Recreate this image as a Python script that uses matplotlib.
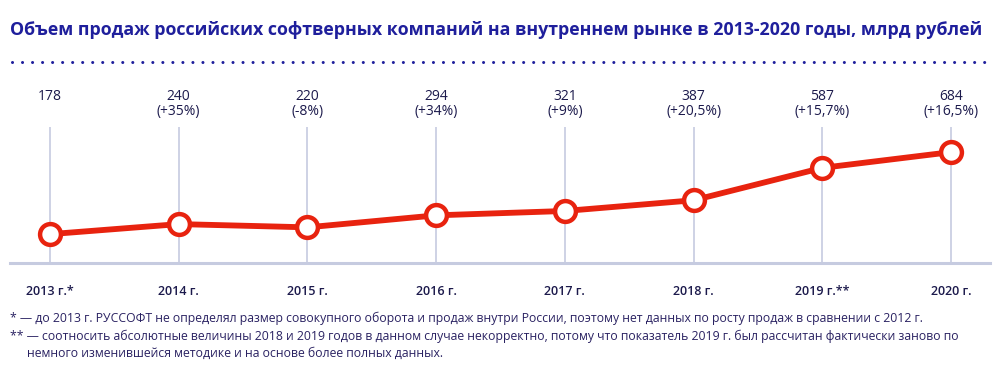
import matplotlib
matplotlib.use("Agg")
import matplotlib.pyplot as plt
import matplotlib.transforms as mtransforms
from matplotlib.lines import Line2D

plt.rcParams['font.family'] = ['Open Sans', 'DejaVu Sans']

# data
years = ["2013 г.*", "2014 г.", "2015 г.", "2016 г.", "2017 г.", "2018 г.", "2019 г.**", "2020 г."]
sales = [178, 240, 220, 294, 321, 387, 587, 684]
growth = ["", "(+35%)", "(-8%)", "(+34%)", "(+9%)", "(+20,5%)", "(+15,7%)", "(+16,5%)"]

title = "Объем продаж российских софтверных компаний на внутреннем рынке в 2013-2020 годы, млрд рублей"
notes = [
    "* — до 2013 г. РУССОФТ не определял размер совокупного оборота и продаж внутри России, поэтому нет данных по росту продаж в сравнении с 2012 г.",
    "** — соотносить абсолютные величины 2018 и 2019 годов в данном случае некорректно, потому что показатель 2019 г. был рассчитан фактически заново по",
    "немного изменившейся методике и на основе более полных данных.",
]

red = "#e8230f"
navy = "#1c1a4c"
title_blue = "#1f1f9c"
grid_col = "#c6cbe0"

fig = plt.figure(figsize=(10, 3.69), dpi=100)
W, H = 1000, 369
ax = fig.add_axes([10 / W, (H - 263) / H, 980 / W, 136 / H])

x = list(range(len(sales)))
ax.set_xlim(-0.311, 7.303)
ax.set_ylim(0, 839)

for xi in x:
    ax.axvline(xi, color=grid_col, lw=1.2, zorder=1)
ax.axhline(0, color=grid_col, lw=2.2, zorder=1, clip_on=False)

ax.plot(x, sales, color=red, lw=4.2, marker='o', markersize=15,
        markerfacecolor='white', markeredgecolor=red, markeredgewidth=3.2,
        zorder=3, clip_on=False)

for s in ax.spines.values():
    s.set_visible(False)
ax.set_yticks([])
ax.set_xticks(x)
ax.set_xticklabels(years, fontsize=9, color=navy, fontweight='semibold')
ax.tick_params(axis='x', length=0, pad=16)

trans = mtransforms.blended_transform_factory(ax.transData, fig.transFigure)
for xi, v, g in zip(x, sales, growth):
    ax.text(xi, (H - 96) / H, str(v), transform=trans, ha='center', va='center',
            fontsize=10, color=navy)
    if g:
        ax.text(xi, (H - 112) / H, g, transform=trans, ha='center', va='center',
                fontsize=10, color=navy)

fig.text(10 / W, (H - 30) / H, title, fontsize=12.8, fontweight='bold',
         color=title_blue, ha='left', va='center')

fig.add_artist(Line2D([12 / W, 988 / W], [(H - 62) / H] * 2, transform=fig.transFigure,
                      color=title_blue, lw=2.2, linestyle=(0, (0.01, 3.27)),
                      dash_capstyle='round'))

fig.text(10 / W, (H - 318) / H, notes[0], fontsize=8.8, color="#2a2262", ha='left', va='center')
fig.text(10 / W, (H - 336) / H, notes[1], fontsize=8.8, color="#2a2262", ha='left', va='center')
fig.text(27 / W, (H - 353) / H, notes[2], fontsize=8.8, color="#2a2262", ha='left', va='center')

fig.savefig("out.png", dpi=100, facecolor='white')
